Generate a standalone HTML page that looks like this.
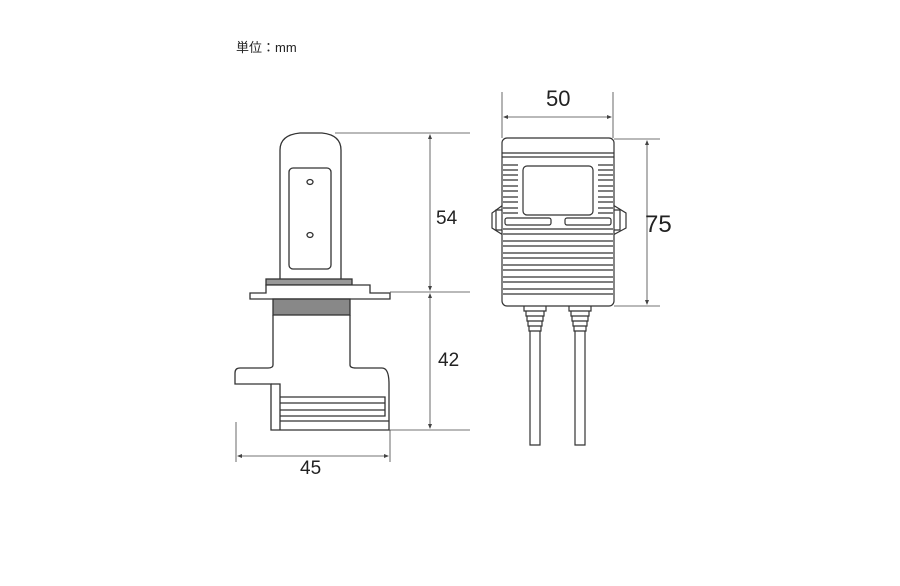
<!DOCTYPE html>
<html><head><meta charset="utf-8"><style>
html,body{margin:0;padding:0;background:#fff;width:900px;height:586px;overflow:hidden}
svg{display:block}
text{font-family:"Liberation Sans","Noto Sans CJK JP",sans-serif;fill:#222}
</style></head><body>
<svg width="900" height="586" viewBox="0 0 900 586" xmlns="http://www.w3.org/2000/svg">
<text x="236" y="52" font-size="13">単位：mm</text>
<g fill="none" stroke="#333" stroke-width="1.3">
<path d="M280,279 V150 Q280,135 300,133 H322 Q341,135 341,150 V279"/>
<rect x="289" y="168" width="42" height="101" rx="4"/>
<ellipse cx="310" cy="182" rx="3" ry="2.5"/>
<ellipse cx="310" cy="235" rx="3" ry="2.5"/>
<rect x="266" y="279" width="86" height="6" fill="#999"/>
<path d="M266,285 V293 H250 V299 H390 V293 H370 V285 Z" fill="#fff"/>
<rect x="273" y="299" width="77" height="16" fill="#888"/>
<path d="M273,315 V365 Q273,368 268,368 H240 Q235,368 235,373 V384 H271 V430 H389 V384 Q389,368 382,368 H356 Q350,368 350,365 V315"/>
<path d="M271,384 H280 V397 M280,397 H385 V403 H280 Z M280,403 V410 H385 V403 M280,410 H385 V416 H280 Z M280,416 V421 H389 M280,421 V430"/>
</g>
<g stroke="#444" stroke-width="0.8" fill="none">
<line x1="335" y1="133" x2="470" y2="133"/>
<line x1="390" y1="292" x2="470" y2="292"/>
<line x1="389" y1="430" x2="470" y2="430"/>
<line x1="430" y1="135" x2="430" y2="290"/>
<line x1="430" y1="294" x2="430" y2="428"/>
<line x1="236" y1="422" x2="236" y2="462"/>
<line x1="390" y1="430" x2="390" y2="462"/>
<line x1="238" y1="456" x2="388" y2="456"/>
<line x1="502" y1="92" x2="502" y2="138"/>
<line x1="613" y1="92" x2="613" y2="138"/>
<line x1="504" y1="117" x2="611" y2="117"/>
<line x1="614" y1="139" x2="660" y2="139"/>
<line x1="614" y1="306" x2="660" y2="306"/>
<line x1="647" y1="141" x2="647" y2="304"/>
</g>
<g fill="#444">
<path d="M430,134 l-2,5 h4z M430,291 l-2,-5 h4z M430,293 l-2,5 h4z M430,429 l-2,-5 h4z"/>
<path d="M237,456 l5,-2 v4z M389,456 l-5,-2 v4z"/>
<path d="M503,117 l5,-2 v4z M612,117 l-5,-2 v4z"/>
<path d="M647,140 l-2,5 h4z M647,305 l-2,-5 h4z"/>
</g>
<text x="436" y="224" font-size="19">54</text>
<text x="438" y="366" font-size="19">42</text>
<text x="300" y="474" font-size="19">45</text>
<text x="546" y="106" font-size="22">50</text>
<text x="645" y="232" font-size="24">75</text>
<g fill="none" stroke="#333" stroke-width="1.2">
<path d="M503,205 L492,213 V228 L503,235 M613,205 L626,213 V228 L613,235"/>
<path d="M503,210 H496 V230 H503 M613,210 H620 V230 H613"/>
<rect x="502" y="138" width="112" height="168" rx="5" fill="#fff"/>
<line x1="502" y1="153" x2="614" y2="153"/>
<line x1="502" y1="157" x2="614" y2="157"/>
<rect x="523" y="166" width="70" height="49" rx="4"/>
<rect x="505" y="218" width="46" height="7" rx="2"/>
<rect x="565" y="218" width="46" height="7" rx="2"/>
<path d="M503,165H518 M503,170H518 M503,175H518 M503,180H518 M503,186H518 M503,191H518 M503,197H518 M503,202H518 M503,208H518 M503,213H518"/>
<path d="M598,165H613 M598,170H613 M598,175H613 M598,180H613 M598,186H613 M598,191H613 M598,197H613 M598,202H613 M598,208H613 M598,213H613"/>
<path d="M503,229H613 M503,234H613 M503,241H613 M503,246H613 M503,253H613 M503,258H613 M503,265H613 M503,270H613 M503,277H613 M503,282H613 M503,289H613 M503,294H613"/>
<path d="M524,306 V311 H546 V306 M526,311 V316 H544 V311 M527,316 V321 H543 V316 M528,321 V326 H542 V321 M529,326 V331 H541 V326 M530,331 V445 H540 V331"/>
<path d="M569,306 V311 H591 V306 M571,311 V316 H589 V311 M572,316 V321 H588 V316 M573,321 V326 H587 V321 M574,326 V331 H586 V326 M575,331 V445 H585 V331"/>
</g>
</svg>
</body></html>
